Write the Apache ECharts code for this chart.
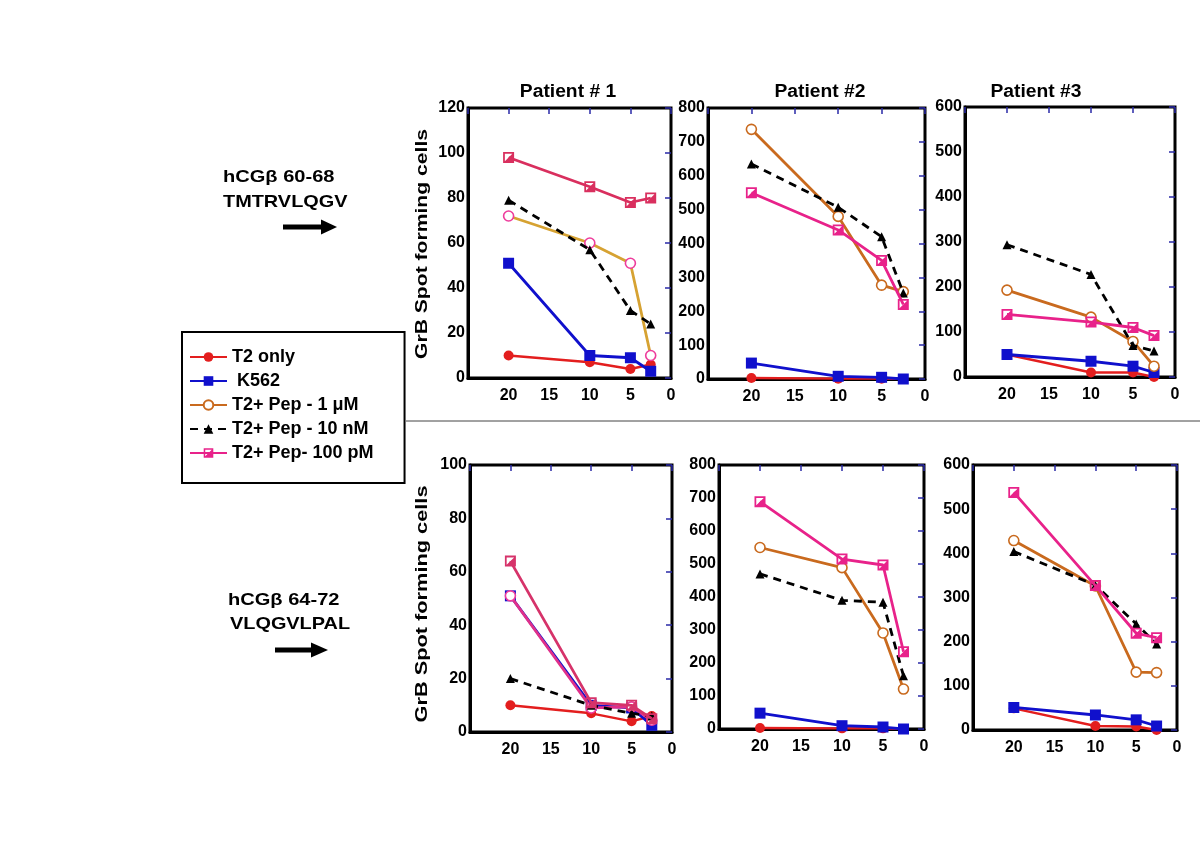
<!DOCTYPE html>
<html><head><meta charset="utf-8">
<script src="https://cdn.jsdelivr.net/npm/echarts@6/dist/echarts.min.js"></script>
<style>html,body{margin:0;background:#fff}#c{width:1200px;height:847px}</style>
</head><body><div id="c"></div>
<script>
// ---------- DATA ----------
const dilution = [20, 10, 5, 2.5];          // effector : target ratio (x values)
const seriesNames = ['T2 only', ' K562', 'T2+ Pep - 1 μM', 'T2+ Pep - 10 nM', 'T2+ Pep- 100 pM'];
const patientTitles = ['Patient # 1', 'Patient #2', 'Patient #3'];
const rowLabels = [['hCGβ 60-68', 'TMTRVLQGV'], ['hCGβ 64-72', 'VLQGVLPAL']];
const yAxisTitle = 'GrB Spot forming cells';
const yMaxes = [120, 800, 600, 100, 800, 600];
const yIntervals = [20, 100, 100, 20, 100, 100];

// hCGβ 60-68 (top row)
const p1top_T2 = [10, 7, 4, 6];
const p1top_K562 = [51, 10, 9, 3];
const p1top_1uM = [72, 60, 51, 10];
const p1top_10nM = [79, 57, 30, 24];
const p1top_100pM = [98, 85, 78, 80];

const p2top_T2 = [3, 1, 1, 0];
const p2top_K562 = [47, 8, 5, 0];
const p2top_1uM = [737, 480, 277, 258];
const p2top_10nM = [635, 507, 420, 254];
const p2top_100pM = [550, 440, 350, 220];

const p3top_T2 = [50, 10, 10, 0];
const p3top_K562 = [50, 35, 24, 10];
const p3top_1uM = [193, 133, 79, 24];
const p3top_10nM = [294, 228, 70, 58];
const p3top_100pM = [139, 122, 110, 92];

// hCGβ 64-72 (bottom row)
const p1bot_T2 = [10, 7, 4, 6];
const p1bot_K562 = [51, 10, 9, 2.5];
const p1bot_1uM = [51, 9, 9.4, 4.4];
const p1bot_10nM = [20, 10, 7, 6];
const p1bot_100pM = [64, 11, 10, 5];

const p2bot_T2 = [3, 2, 2, 0];
const p2bot_K562 = [48, 10, 6, 0];
const p2bot_1uM = [550, 489, 291, 121];
const p2bot_10nM = [470, 390, 384, 161];
const p2bot_100pM = [689, 515, 497, 234];

const p3bot_T2 = [49, 9, 8, 0];
const p3bot_K562 = [51, 34, 23, 9];
const p3bot_1uM = [429, 326, 131, 130];
const p3bot_10nM = [404, 328, 240, 195];
const p3bot_100pM = [538, 327, 219, 209];

const panels = [
  [p1top_T2, p1top_K562, p1top_1uM, p1top_10nM, p1top_100pM],
  [p2top_T2, p2top_K562, p2top_1uM, p2top_10nM, p2top_100pM],
  [p3top_T2, p3top_K562, p3top_1uM, p3top_10nM, p3top_100pM],
  [p1bot_T2, p1bot_K562, p1bot_1uM, p1bot_10nM, p1bot_100pM],
  [p2bot_T2, p2bot_K562, p2bot_1uM, p2bot_10nM, p2bot_100pM],
  [p3bot_T2, p3bot_K562, p3bot_1uM, p3bot_10nM, p3bot_100pM]
];

// ---------- LAYOUT / STYLE ----------
const FONT = '"Liberation Sans", Arial, sans-serif';
const grids = [
  {left: 468, top: 108, width: 203, height: 270},
  {left: 708, top: 108, width: 217, height: 271},
  {left: 965, top: 107, width: 210, height: 270},
  {left: 470, top: 465, width: 202, height: 267},
  {left: 719, top: 465, width: 205, height: 264},
  {left: 973, top: 465, width: 204, height: 265}
];
const RED = '#e31e1e', BLUE = '#1010cc', ORANGE = '#c96a1e', GOLD = '#d6a232',
      PINK = '#e8228a', CRIMSON = '#d92f5e', CIRCPINK = '#ee3c9c', BLACK = '#000';
const halfSquare = 'path://M0,0H10V10H0Z M1.6,1.6V8.4H8.4V1.6Z M8.4,1.6L8.4,8.4L1.6,8.4Z';

function styleFor(p, k) {
  if (k === 0) return {line: RED, width: 2.4, symbol: 'circle', size: 10, item: {color: RED, borderWidth: 0}};
  if (k === 1) return {line: BLUE, width: 2.8, symbol: 'rect', size: 11, item: {color: BLUE, borderWidth: 0}};
  if (k === 2) {
    let line = ORANGE, edge = ORANGE;
    if (p === 0) { line = GOLD; edge = CIRCPINK; }
    if (p === 3) { line = '#e0308a'; edge = CIRCPINK; }
    return {line, width: 2.8, symbol: 'circle', size: 10, item: {color: '#fff', borderColor: edge, borderWidth: 1.6}};
  }
  if (k === 3) return {line: BLACK, width: 2.8, symbol: 'triangle', size: 9, item: {color: BLACK, borderWidth: 0}, dashed: true};
  let c = PINK;
  if (p === 0) c = CRIMSON;
  if (p === 3) c = '#d6336a';
  return {line: c, width: 2.8, symbol: halfSquare, size: 11, item: {color: c, borderWidth: 0}};
}

const xAxes = [], yAxes = [], series = [];
grids.forEach((g, i) => {
  g.show = true; g.borderColor = '#000'; g.borderWidth = 3; g.backgroundColor = '#fff';
  xAxes.push({
    gridIndex: i, type: 'value', min: 0, max: 25, interval: 5, inverse: true,
    axisLine: {show: true, onZero: false, lineStyle: {color: '#000', width: 3}},
    axisTick: {show: false}, splitLine: {show: false},
    axisLabel: {margin: 10, fontSize: 16, fontWeight: 'bold', fontFamily: FONT, color: '#000',
      formatter: v => (v === 25 ? '' : String(v))}
  });
  xAxes.push({
    gridIndex: i, type: 'value', position: 'top', min: 0, max: 25, interval: 5, inverse: true,
    axisLine: {show: false, onZero: false}, axisLabel: {show: false}, splitLine: {show: false},
    axisTick: {show: true, inside: true, length: 6, lineStyle: {color: '#2a2aa8', width: 1.5}}
  });
  yAxes.push({
    gridIndex: i, type: 'value', min: 0, max: yMaxes[i], interval: yIntervals[i],
    axisLine: {show: true, onZero: false, lineStyle: {color: '#000', width: 3}},
    axisTick: {show: false}, splitLine: {show: false},
    axisLabel: {margin: 3, fontSize: 16, fontWeight: 'bold', fontFamily: FONT, color: '#000'}
  });
  yAxes.push({
    gridIndex: i, type: 'value', position: 'right', min: 0, max: yMaxes[i], interval: yIntervals[i],
    axisLine: {show: false, onZero: false}, axisLabel: {show: false}, splitLine: {show: false},
    axisTick: {show: true, inside: true, length: 6, lineStyle: {color: '#2a2aa8', width: 1.5}}
  });
});

const panelOrder = [1, 0, 2, 3, 4, 5]; // panel 2 first so legend picks its standard colours
panelOrder.forEach(p => {
  panels[p].forEach((vals, k) => {
    const s = styleFor(p, k);
    series.push({
      name: seriesNames[k], type: 'line',
      xAxisIndex: p * 2, yAxisIndex: p * 2,
      data: dilution.map((x, j) => [x, vals[j]]),
      symbol: s.symbol, symbolSize: s.size, showAllSymbol: true,
      lineStyle: {color: s.line, width: s.width, type: s.dashed ? [8, 6] : 'solid'},
      itemStyle: s.item, color: s.line,
      emphasis: {disabled: true}, animation: false, z: 2 + k
    });
  });
});

// ---------- GRAPHIC (texts, arrows, separator) ----------
const T = (text, x, y, opts = {}) => Object.assign({
  type: 'text', x, y,
  style: {text, fill: '#000', font: `bold ${opts.size || 17}px ${FONT}`,
    textAlign: opts.align || 'left', textVerticalAlign: 'middle'}
}, opts.extra || {});

const graphics = [];
const titleX = [568, 820, 1036];
patientTitles.forEach((t, i) => graphics.push(T(t, titleX[i], 92, {size: 18, align: 'center', extra: {scaleX: 1.07}})));
graphics.push(T(yAxisTitle, 423, 244, {size: 16, align: 'center', extra: {rotation: Math.PI / 2, scaleX: 1.32}}));
graphics.push(T(yAxisTitle, 423, 604, {size: 16, align: 'center', extra: {rotation: Math.PI / 2, scaleX: 1.36}}));
graphics.push(T(rowLabels[0][0], 223, 177, {size: 17, extra: {scaleX: 1.18}}));
graphics.push(T(rowLabels[0][1], 223, 202, {size: 17, extra: {scaleX: 1.17}}));
graphics.push(T(rowLabels[1][0], 228, 600, {size: 17, extra: {scaleX: 1.18}}));
graphics.push(T(rowLabels[1][1], 230, 624, {size: 17, extra: {scaleX: 1.17}}));
// arrows
graphics.push({type: 'rect', shape: {x: 283, y: 224.5, width: 40, height: 5}, style: {fill: '#000'}});
graphics.push({type: 'polygon', shape: {points: [[321, 219.5], [337, 227], [321, 234.5]]}, style: {fill: '#000'}});
graphics.push({type: 'rect', shape: {x: 275, y: 647.5, width: 38, height: 5}, style: {fill: '#000'}});
graphics.push({type: 'polygon', shape: {points: [[311, 642.5], [328, 650], [311, 657.5]]}, style: {fill: '#000'}});
// separator
graphics.push({type: 'line', shape: {x1: 406, y1: 421, x2: 1200, y2: 421}, style: {stroke: '#444', lineWidth: 1}});

const option = {
  backgroundColor: '#fff',
  animation: false,
  grid: grids, xAxis: xAxes, yAxis: yAxes, series,
  legend: {
    data: seriesNames, orient: 'vertical', left: 182, top: 332,
    itemWidth: 37, itemHeight: 12, itemGap: 6, selectedMode: false,
    padding: [16, 31, 21, 7], borderColor: '#000', borderWidth: 2, backgroundColor: '#fff',
    textStyle: {fontSize: 18, fontWeight: 'bold', fontFamily: FONT, color: '#000', lineHeight: 18}
  },
  graphic: graphics
};
const chart = echarts.init(document.getElementById('c'), null, {renderer: 'canvas'});
chart.setOption(option);
</script></body></html>
